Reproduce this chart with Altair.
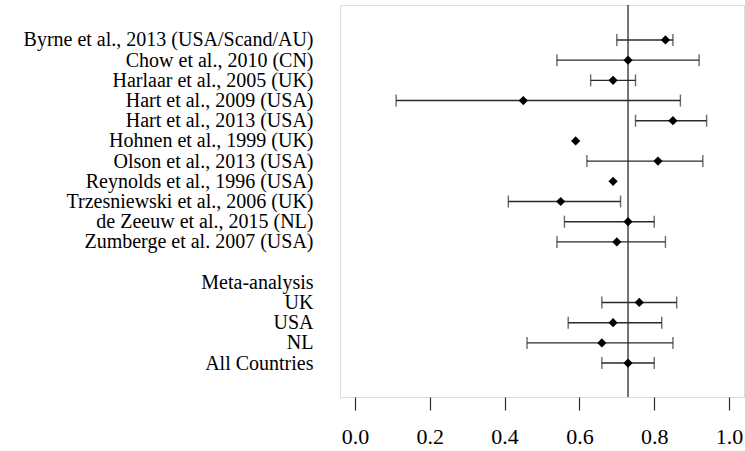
import json
import altair as alt
import pandas as pd

# Individual studies: point estimate and interval (None where no interval is reported)
study_labels = [
    "Byrne et al., 2013 (USA/Scand/AU)",
    "Chow et al., 2010 (CN)",
    "Harlaar et al., 2005 (UK)",
    "Hart et al., 2009 (USA)",
    "Hart et al., 2013 (USA)",
    "Hohnen et al., 1999 (UK)",
    "Olson et al., 2013 (USA)",
    "Reynolds et al., 1996 (USA)",
    "Trzesniewski et al., 2006 (UK)",
    "de Zeeuw et al., 2015 (NL)",
    "Zumberge et al. 2007 (USA)",
]
study_est = [0.83, 0.73, 0.69, 0.45, 0.85, 0.59, 0.81, 0.69, 0.55, 0.73, 0.70]
study_lo = [0.70, 0.54, 0.63, 0.11, 0.75, None, 0.62, None, 0.41, 0.56, 0.54]
study_hi = [0.85, 0.92, 0.75, 0.87, 0.94, None, 0.93, None, 0.71, 0.80, 0.83]

# Pooled estimates
meta_labels = ["UK", "USA", "NL", "All Countries"]
meta_est = [0.76, 0.69, 0.66, 0.73]
meta_lo = [0.66, 0.57, 0.46, 0.66]
meta_hi = [0.86, 0.82, 0.85, 0.80]

pooled_all = 0.73
x_ticks = [0.0, 0.2, 0.4, 0.6, 0.8, 1.0]

# Row order from top to bottom: studies, a blank row, the header, pooled rows
rows = study_labels + ["", "Meta-analysis"] + meta_labels

df = pd.DataFrame({
    "label": study_labels + meta_labels,
    "est": study_est + meta_est,
    "lo": study_lo + meta_lo,
    "hi": study_hi + meta_hi,
})
df["row"] = [rows.index(l) for l in df["label"]]
ci = df.dropna(subset=["lo", "hi"])

FONT = "Liberation Serif"
LINE = "#2a2a2a"

x_scale = alt.Scale(domain=[-0.04, 1.04], nice=False, zero=False)
y_scale = alt.Scale(domain=[-1.73, len(rows) - 1 + 1.68], reverse=True,
                    nice=False, zero=False)
label_expr = json.dumps(rows) + "[round(datum.value)]"
y_enc = alt.Y(
    "row:Q",
    scale=y_scale,
    axis=alt.Axis(
        title=None, values=list(range(len(rows))), labelExpr=label_expr,
        ticks=False, domain=False, grid=False,
        labelPadding=27, labelFont=FONT, labelFontSize=20,
        labelColor="black", labelLimit=0, labelOverlap=False,
        labelBaseline="middle",
    ),
)
x_axis = alt.Axis(
    title=None, values=x_ticks, format=".1f", domain=False, grid=False,
    tickSize=13, tickColor=LINE, tickWidth=1.2,
    labelFont=FONT, labelFontSize=22, labelColor="black", labelPadding=16,
)

ref = alt.Chart(pd.DataFrame({"v": [pooled_all]})).mark_rule(
    color=LINE, strokeWidth=1.3
).encode(x=alt.X("v:Q", scale=x_scale, axis=x_axis))

bars = alt.Chart(ci).mark_rule(color=LINE, strokeWidth=1.4).encode(
    x=alt.X("lo:Q", scale=x_scale, axis=x_axis), x2="hi:Q", y=y_enc
)
cap_lo = alt.Chart(ci).mark_tick(
    color=LINE, orient="vertical", size=12, thickness=1.4
).encode(x=alt.X("lo:Q", scale=x_scale), y=y_enc)
cap_hi = alt.Chart(ci).mark_tick(
    color=LINE, orient="vertical", size=12, thickness=1.4
).encode(x=alt.X("hi:Q", scale=x_scale), y=y_enc)
points = alt.Chart(df).mark_point(
    shape="diamond", filled=True, color="black", size=85, opacity=1
).encode(x=alt.X("est:Q", scale=x_scale), y=y_enc)

chart = alt.layer(ref, bars, cap_lo, cap_hi, points).properties(
    width=404, height=392,
    padding={"left": 340, "top": 5, "right": 1, "bottom": 54},
    autosize=alt.AutoSizeParams(type="none"),
).configure_view(
    stroke="#333333", strokeWidth=1.2
).configure(background="white")

chart.save("out.html", embed_options={"renderer": "svg", "actions": False})
